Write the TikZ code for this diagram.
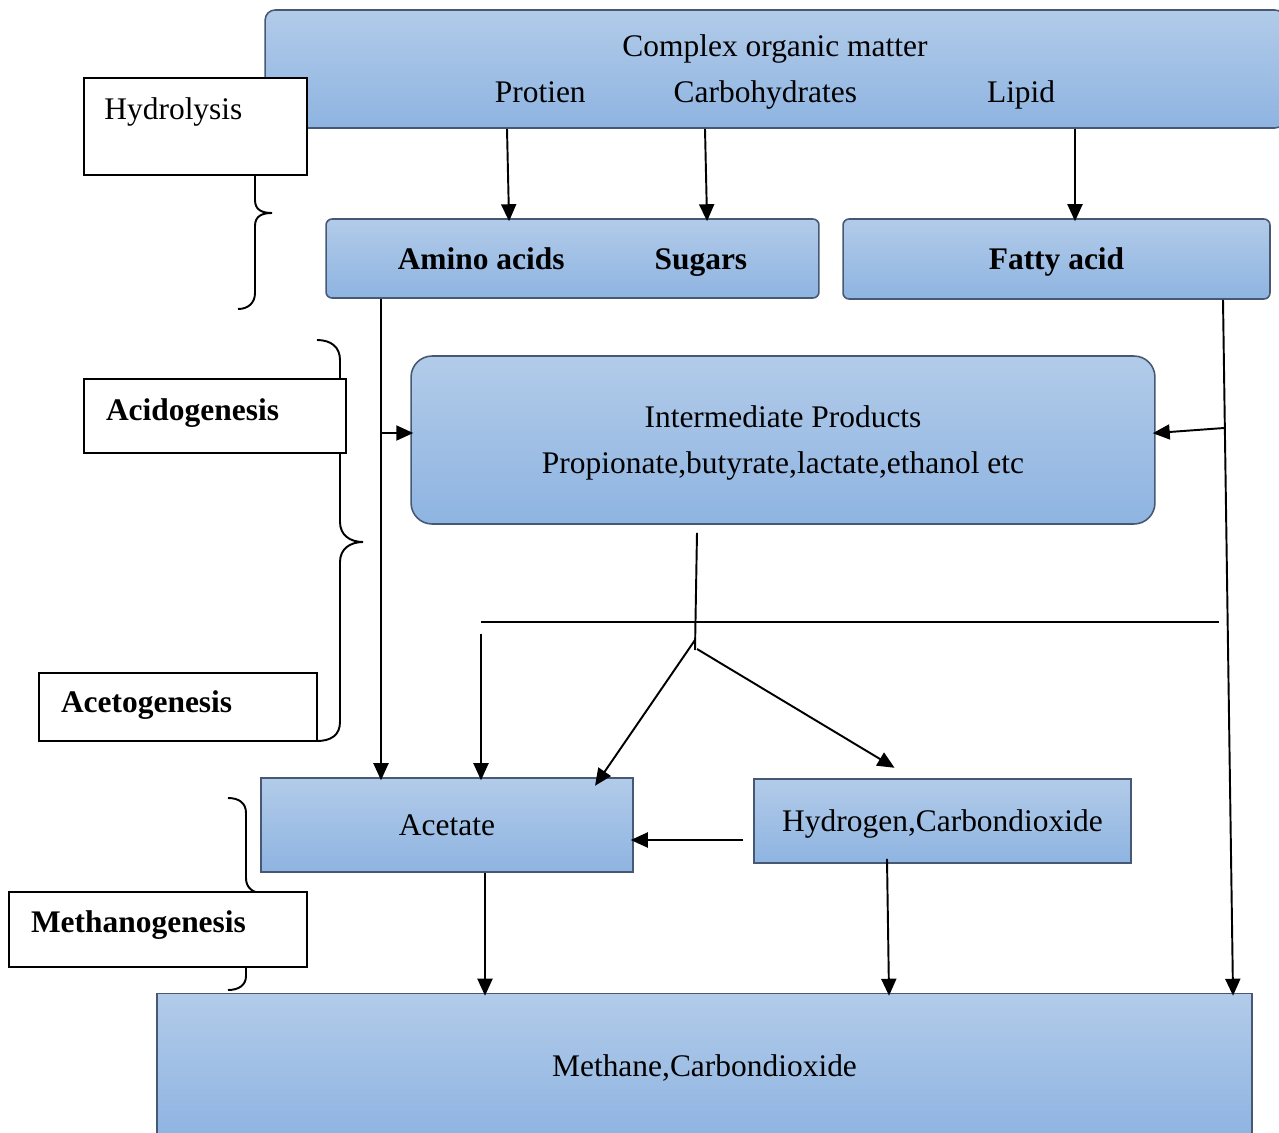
\documentclass[tikz,border=0pt]{standalone}
\usepackage{fontspec}
\setmainfont{Liberation Serif}
\usepackage{xcolor}
\usepackage{tikz}
\usetikzlibrary{arrows.meta, positioning, calc}
\definecolor{boxtop}{RGB}{178,203,233}
\definecolor{boxbot}{RGB}{142,180,225}
\definecolor{boxline}{RGB}{70,88,115}
\tikzset{
    stage/.style={rectangle, draw=boxline, line width=0.9pt, top color=boxtop, bottom color=boxbot, text centered, align=center, text height=0.6cm, text depth=0.18cm, font=\fontsize{17.9}{26}\selectfont},
    twoline/.style={text height=1.52cm},
    phase/.style={rectangle, draw=black, line width=1.1pt, fill=white, align=left, inner xsep=0.44cm, text height=0.5cm, text depth=0.32cm, font=\fontsize{17.9}{26}\selectfont\bfseries},
    brace/.style={line width=1.1pt},
    link/.style={line width=1.1pt},
    arrow/.style={line width=1.1pt, shorten >=-0.06cm, -{Triangle[length=0.34cm, width=0.3cm]}}
}
\begin{document}
\begin{tikzpicture}[x=0.02cm, y=-0.02cm]
    \useasboundingbox (0,0) rectangle (1279,1133);

    % process boxes
    \node (complex) [stage, twoline, rounded corners=0.2cm, minimum width=20.4cm, minimum height=2.36cm] at (775,69)
        {Complex organic matter\\ Protien\hspace{1.76cm}Carbohydrates\hspace{2.6cm}Lipid};
    \node (amino) [stage, rounded corners=0.12cm, minimum width=9.86cm, minimum height=1.58cm, font=\fontsize{17.9}{26}\selectfont\bfseries] at (572.5,258.5)
        {Amino acids\hspace{1.8cm}Sugars};
    \node (fatty) [stage, rounded corners=0.12cm, minimum width=8.54cm, minimum height=1.6cm, font=\fontsize{17.9}{26}\selectfont\bfseries] at (1056.5,259) {Fatty acid};
    \node (inter) [stage, twoline, rounded corners=0.42cm, minimum width=14.88cm, minimum height=3.36cm] at (783,440)
        {Intermediate Products\\ Propionate,butyrate,lactate,ethanol etc};
    \node (acetate) [stage, minimum width=7.44cm, minimum height=1.88cm] at (447,825) {Acetate};
    \node (hydrogen) [stage, minimum width=7.54cm, minimum height=1.68cm] at (942.5,821) {Hydrogen,Carbondioxide};
    \node (methane) [stage, minimum width=21.9cm, minimum height=2.9cm] at (704.5,1066) {Methane,Carbondioxide};

    % braces
    \draw [brace] (255,175) -- (255,200) .. controls (255,210) and (262,213) .. (272,213)
        .. controls (262,213) and (255,216) .. (255,226) -- (255,293)
        .. controls (255,303) and (248,309) .. (238,309);
    \draw [brace] (317,340) .. controls (331,340) and (340,347) .. (340,360) -- (340,522)
        .. controls (340,535) and (350,542) .. (363,542)
        .. controls (350,542) and (340,549) .. (340,562) -- (340,722)
        .. controls (340,735) and (331,741) .. (317,741);
    \draw [brace] (228,798) .. controls (239,798) and (246,803) .. (246,813) -- (246,878)
        .. controls (246,887) and (252,893) .. (262,893)
        .. controls (252,893) and (246,899) .. (246,908) -- (246,976)
        .. controls (246,985) and (239,990) .. (228,990);

    % phase labels
    \node (hydro) [phase, minimum width=4.46cm, minimum height=1.94cm,
        label={[anchor=base west, inner sep=0pt, xshift=0.42cm, yshift=-0.84cm, font=\fontsize{17.9}{26}\selectfont]north west:Hydrolysis}] at (195.5,126.5) {};
    \node (acido) [phase, minimum width=5.24cm, minimum height=1.48cm, text width=4.36cm] at (215,416) {Acidogenesis};
    \node (aceto) [phase, minimum width=5.56cm, minimum height=1.36cm, text width=4.68cm, text depth=0.28cm] at (178,707) {Acetogenesis};
    \node (methano) [phase, minimum width=5.96cm, minimum height=1.5cm, text width=5.08cm, inner xsep=0.42cm, text depth=0.4cm] at (158,929.5) {Methanogenesis};

    % connectors
    \coordinate (ajoin) at (381,433);
    \coordinate (fjoin) at (1224,428);
    \coordinate (fork) at (695,645);
    \coordinate (hl) at (481,622);
    \coordinate (hr) at (1219,622);

    \draw [arrow] (complex.south -| 507,0) -- (amino.north -| 509,0);
    \draw [arrow] (complex.south -| 705,0) -- (amino.north -| 707,0);
    \draw [arrow] (complex.south -| 1075,0) -- (fatty.north -| 1075,0);
    \draw [arrow] (amino.south -| 381,0) -- (acetate.north -| 381,0);
    \draw [arrow] (ajoin) -- (inter.west |- ajoin);
    \draw [arrow] (fatty.south -| 1223,0) -- (methane.north -| 1233,0);
    \draw [arrow] (fjoin) -- (inter.east |- 0,433);
    \draw [link] ($(inter.south -| 697,0)+(0,8)$) -- (695,650);
    \draw [link] (hl) -- (hr);
    \draw [arrow] ($(hl)+(0,12)$) -- (acetate.north -| 481,0);
    \draw [arrow] ($(fork)+(0,-5)$) -- ($(acetate.north east)+(-37,6)$);
    \draw [arrow] ($(fork)+(2,4)$) -- ($(hydrogen.north -| 892,0)+(0,-12)$);
    \draw [arrow] ($(hydrogen.west |- 0,840)+(-10,0)$) -- (acetate.east |- 0,840);
    \draw [arrow] (acetate.south -| 485,0) -- (methane.north -| 485,0);
    \draw [arrow] ($(hydrogen.south -| 887,0)+(0,-5)$) -- (methane.north -| 889,0);
\end{tikzpicture}
\end{document}
